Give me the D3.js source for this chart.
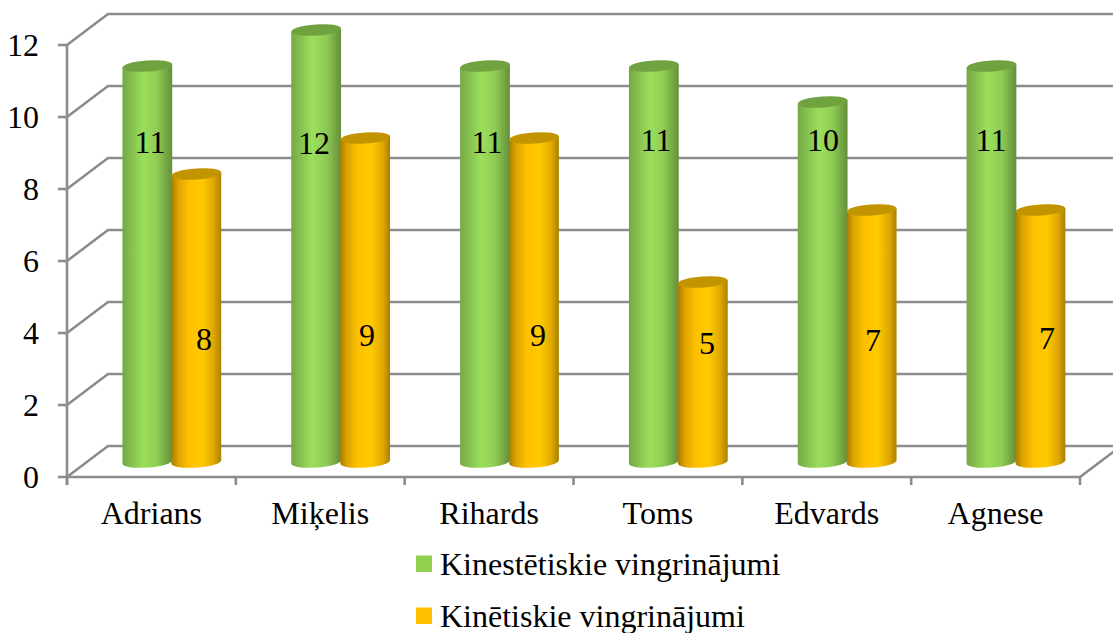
<!DOCTYPE html>
<html><head><meta charset="utf-8">
<script src="https://cdn.jsdelivr.net/npm/d3@7/dist/d3.min.js"></script>
<style>html,body{margin:0;padding:0;background:#fff;overflow:hidden}svg{display:block}
text{font-family:"Liberation Serif",serif;fill:#000}</style></head><body>
<script>
const categories = ["Adrians","Miķelis","Rihards","Toms","Edvards","Agnese"];
const seriesNames = ["Kinestētiskie vingrinājumi","Kinētiskie vingrinājumi"];
const kinestetiskie = [11,12,11,11,10,11];
const kinetiskie = [8,9,9,5,7,7];
const yTicks = [0,2,4,6,8,10,12];
// Manual data-label placement (as moved by hand in the original)
const labelCentreX = [[150,314,487,656,823,991],[204,367,538,707,873,1047]];
const labelCentreY = [[142,143,142,140,140,140],[339,335,335,343,340,338]];

const W=1113,H=633, depthX=41, depthY=31, gridCol="#8c8c8c";
const svg=d3.select("body").append("svg").attr("width",W).attr("height",H);
const x=d3.scaleBand().domain(categories).range([67,1080]);
const y=d3.scaleLinear().domain([0,12]).range([477,45]);
const barW=49;
const series=[
 {vals:kinestetiskie,off:-1,stops:[["0%","#74a845"],["12%","#80b84c"],["42%","#9bdf5c"],["70%","#8fcc54"],["92%","#6f9f40"],["100%","#668f3c"]],top:"#70a23f",id:"g"},
 {vals:kinetiskie,off:0,stops:[["0%","#a87c00"],["14%","#dda400"],["35%","#ffc000"],["62%","#ffca00"],["85%","#e0a800"],["100%","#a88000"]],top:"#c29500",id:"o"}
];
const defs=svg.append("defs");
series.forEach(s=>{
  const g=defs.append("linearGradient").attr("id",s.id);
  s.stops.forEach(d=>g.append("stop").attr("offset",d[0]).attr("stop-color",d[1]));
});
const grid=svg.append("g").attr("fill","none").attr("stroke",gridCol).attr("stroke-width",2.6);
yTicks.forEach(t=>{
  const yy=y(t);
  grid.append("path").attr("d",`M${x.range()[0]},${yy}L${x.range()[0]+depthX},${yy-depthY}L${W+2},${yy-depthY}`);
  grid.append("line").attr("x1",58).attr("x2",67).attr("y1",yy).attr("y2",yy);
});
grid.append("line").attr("x1",67).attr("x2",67).attr("y1",y(12)).attr("y2",y(0)+8);
grid.append("line").attr("x1",67).attr("x2",1080).attr("y1",y(0)).attr("y2",y(0));
grid.append("line").attr("x1",1080).attr("x2",1080+depthX).attr("y1",y(0)).attr("y2",y(0)-depthY);
d3.range(0,7).forEach(i=>{
  const xx=67+i*x.bandwidth();
  grid.append("line").attr("x1",xx).attr("x2",xx).attr("y1",y(0)).attr("y2",y(0)+8);
});
const rx=barW/2+0.4, ry=5.6, tilt=-4, dx=20.4, dy=-15;
const tiltY=rx*Math.sin(-tilt*Math.PI/180);
series.forEach(s=>{
  const G=svg.append("g");
  categories.forEach((c,i)=>{
    const cx=x(c)+x.bandwidth()/2+dx+s.off*barW+barW/2;
    const yT=y(s.vals[i])+dy, yB=y(0)+dy;
    G.append("path").attr("fill",`url(#${s.id})`)
     .attr("d",`M${cx-rx},${yT+tiltY}L${cx-rx},${yB+tiltY}A${rx},${ry} ${tilt} 0 0 ${cx+rx},${yB-tiltY}L${cx+rx},${yT-tiltY}Z`);
    G.append("ellipse").attr("cx",cx).attr("cy",yT).attr("rx",rx).attr("ry",ry)
     .attr("transform",`rotate(${tilt} ${cx} ${yT})`).attr("fill",s.top);
  });
});
const fs=32;
series.forEach((s,k)=>{
  svg.append("g").selectAll("text").data(s.vals).join("text")
   .attr("x",(d,i)=>labelCentreX[k][i]).attr("y",(d,i)=>labelCentreY[k][i]+10.5)
   .attr("text-anchor","middle").attr("font-size",fs).text(d=>d);
});
svg.append("g").selectAll("text").data(yTicks).join("text")
  .attr("x",39).attr("y",d=>y(d)+10.5).attr("text-anchor","end").attr("font-size",fs).text(d=>d);
svg.append("g").selectAll("text").data(categories).join("text")
  .attr("x",d=>x(d)+x.bandwidth()/2).attr("y",524).attr("text-anchor","middle").attr("font-size",fs).text(d=>d);
const legY=[575,627], legCol=["#92d050","#ffc000"];
seriesNames.forEach((n,i)=>{
  svg.append("rect").attr("x",416).attr("y",legY[i]-19.5).attr("width",16).attr("height",16.5).attr("fill",legCol[i]);
  svg.append("text").attr("x",440).attr("y",legY[i]).attr("font-size",fs).text(n);
});
</script></body></html>
